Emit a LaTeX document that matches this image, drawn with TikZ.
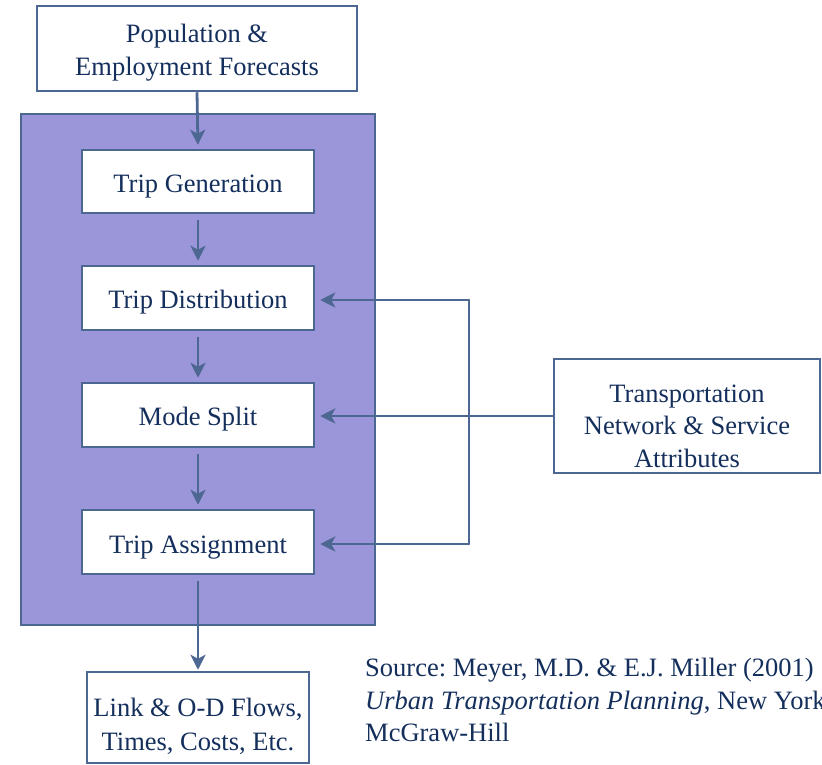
\documentclass[tikz,border=0pt]{standalone}
\usepackage{fontspec}
\setmainfont{Liberation Serif}
\usetikzlibrary{arrows.meta}
\definecolor{txtc}{HTML}{142F5C}
\definecolor{linec}{HTML}{4C6791}
\definecolor{purp}{HTML}{9B95D9}
\newcommand{\bxtext}[2]{\raisebox{#1}[\height][\depth]{\begin{tabular}{@{}c@{}}#2\end{tabular}}}
\frenchspacing
\begin{document}
\begin{tikzpicture}[x=1pt,y=-1pt,
  every node/.style={font=\fontsize{26.5}{32.5}\selectfont, text=txtc},
  bx/.style={draw=linec, line width=2.5pt, fill=white, rectangle, align=center, inner sep=0pt},
  arr/.style={draw=linec, line width=2.8pt, -{Stealth[length=15pt,width=15pt,inset=4pt]}},
  ln/.style={draw=linec, line width=2.8pt}]
\useasboundingbox (0,0) rectangle (822,764);
\fill[purp, draw=linec, line width=2.5pt] (21,114) rectangle (375,625);
\node[bx, minimum width=320pt, minimum height=85pt] (pop) at (197,48.5) {\bxtext{-4pt}{Population \&\\Employment Forecasts}};
\node[bx, minimum width=232pt, minimum height=63pt] (gen) at (198,181.5) {\bxtext{-4pt}{Trip Generation}};
\node[bx, minimum width=232pt, minimum height=64pt] (dist) at (198,298) {\bxtext{-3.5pt}{Trip Distribution}};
\node[bx, minimum width=232pt, minimum height=64pt] (mode) at (198,415) {\bxtext{-3.5pt}{Mode Split}};
\node[bx, minimum width=232pt, minimum height=64pt] (assign) at (198,542) {\bxtext{-4.5pt}{Trip Assignment}};
\node[bx, minimum width=222pt, minimum height=91pt] (out) at (198,717.5) {\bxtext{-9.5pt}{Link \& O-D Flows,\\[1.5pt]Times, Costs, Etc.}};
\node[bx, minimum width=266pt, minimum height=114pt] (net) at (687,416) {\bxtext{-12pt}{Transportation\\Network \& Service\\Attributes}};
\coordinate (j1) at (469,300);
\coordinate (j2) at (469,544);
\draw[arr, shorten >=4pt] (pop.south) -- (gen.north);
\draw[arr, shorten <=6pt, shorten >=4pt] (gen.south) -- (dist.north);
\draw[arr, shorten <=6pt, shorten >=4pt] (dist.south) -- (mode.north);
\draw[arr, shorten <=6pt, shorten >=4pt] (mode.south) -- (assign.north);
\draw[arr, shorten <=6pt, shorten >=1pt] (assign.south) -- (out.north);
\draw[arr, shorten >=5pt] (net.west) -- (mode.east |- net.west);
\draw[ln, line cap=round] (j1) -- (j2);
\draw[arr, shorten >=5pt] (j1) -- (dist.east |- j1);
\draw[arr, shorten >=5pt] (j2) -- (assign.east |- j2);
\node[anchor=north west, align=left, inner sep=0pt] (src) at (365,658) {Source: Meyer, M.D. \& E.J. Miller (2001)\\\textit{Urban Transportation Planning}, New York\\McGraw-Hill};
\end{tikzpicture}
\end{document}
